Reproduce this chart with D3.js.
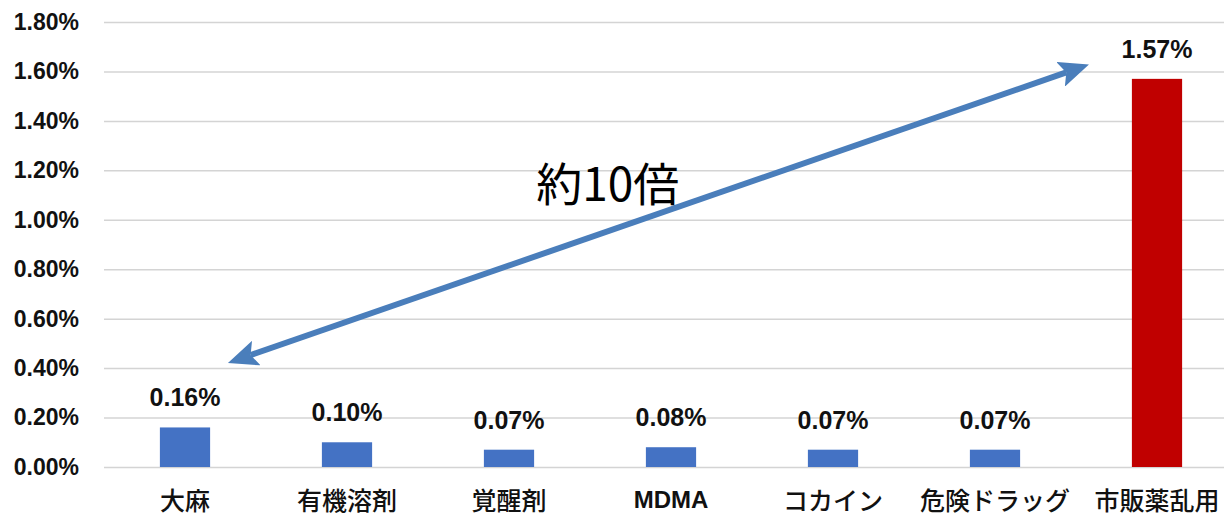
<!DOCTYPE html>
<html>
<head>
<meta charset="utf-8">
<script src="https://cdn.jsdelivr.net/npm/d3@7/dist/d3.min.js"></script>
<style>
  body { margin: 0; background: #fff; }
  svg { display: block; }
</style>
</head>
<body>
<svg id="Chart"></svg>
<script>
// data
const categories = ['大麻', '有機溶剤', '覚醒剤', 'MDMA', 'コカイン', '危険ドラッグ', '市販薬乱用'];
const rates = [0.0016, 0.0010, 0.0007, 0.0008, 0.0007, 0.0007, 0.0157];
const barColors = ['#4472C4', '#4472C4', '#4472C4', '#4472C4', '#4472C4', '#4472C4', '#C00000'];
const yTicks = [0, 0.002, 0.004, 0.006, 0.008, 0.010, 0.012, 0.014, 0.016, 0.018];
// arrow annotation, in (category index, value) space
const arrowFrom = [0.265, 0.00421];
const arrowTo = [5.58, 0.01628];
const noteText = '約10倍';
const notePos = [2.61, 0.01158];

const width = 1224, height = 516;
const plot = { left: 104, right: 1238, top: 22, bottom: 467 };

const svg = d3.select('#Chart')
  .attr('width', width)
  .attr('height', height);

const x = d3.scaleBand()
  .domain(categories)
  .range([plot.left, plot.right])
  .padding(0);

const xIdx = d3.scaleLinear()
  .domain([0, categories.length - 1])
  .range([x(categories[0]) + x.bandwidth() / 2, x(categories[categories.length - 1]) + x.bandwidth() / 2]);

const y = d3.scaleLinear()
  .domain([0, 0.018])
  .range([plot.bottom, plot.top]);

const barW = x.bandwidth() * 0.31;
const isLatin = d => /^[A-Z]+$/.test(d);

// gridlines + y labels
const yAxis = d3.axisLeft(y)
  .tickValues(yTicks)
  .tickFormat(d3.format('.2%'))
  .tickSize(-(plot.right - plot.left))
  .tickPadding(25);

const gy = svg.append('g')
  .attr('transform', 'translate(' + plot.left + ',0)')
  .call(yAxis);
gy.select('.domain').remove();
gy.selectAll('.tick line')
  .attr('stroke', '#d4d4d4')
  .attr('stroke-width', 1.5);
gy.selectAll('.tick text')
  .attr('fill', '#111')
  .style('font-family', '"Liberation Sans", Arial, sans-serif')
  .style('font-weight', 'bold')
  .style('font-size', '23px');

// bars
svg.selectAll('.bar')
  .data(categories)
  .enter().append('rect')
  .attr('class', 'bar')
  .attr('x', d => x(d) + (x.bandwidth() - barW) / 2)
  .attr('width', barW)
  .attr('y', (d, i) => y(rates[i]))
  .attr('height', (d, i) => plot.bottom - y(rates[i]))
  .attr('fill', (d, i) => barColors[i]);

// value labels
svg.selectAll('.val')
  .data(categories)
  .enter().append('text')
  .attr('class', 'val')
  .attr('x', d => x(d) + x.bandwidth() / 2)
  .attr('y', (d, i) => y(rates[i]) - 21)
  .attr('text-anchor', 'middle')
  .style('font-family', '"Liberation Sans", Arial, sans-serif')
  .style('font-weight', 'bold')
  .style('font-size', '25px')
  .attr('fill', '#111')
  .text((d, i) => d3.format('.2%')(rates[i]));

// category labels
svg.selectAll('.cat')
  .data(categories)
  .enter().append('text')
  .attr('class', 'cat')
  .attr('x', d => x(d) + x.bandwidth() / 2)
  .attr('y', d => isLatin(d) ? 508 : 510)
  .attr('text-anchor', 'middle')
  .style('font-family', d => isLatin(d) ? '"Liberation Sans", Arial, sans-serif' : '"Noto Sans CJK JP", sans-serif')
  .style('font-weight', d => isLatin(d) ? 'bold' : '500')
  .style('font-size', d => isLatin(d) ? '24px' : '25px')
  .attr('fill', '#111')
  .text(d => d);

// double-headed arrow
const arrowColor = '#4A7EBB';
svg.append('defs').append('marker')
  .attr('id', 'head')
  .attr('markerUnits', 'userSpaceOnUse')
  .attr('viewBox', '0 0 30 26')
  .attr('refX', 6)
  .attr('refY', 13)
  .attr('markerWidth', 30)
  .attr('markerHeight', 26)
  .attr('orient', 'auto-start-reverse')
  .append('path')
  .attr('d', 'M0,0 L30,13 L0,26 L6,13 Z')
  .attr('fill', arrowColor);

const x1 = xIdx(arrowFrom[0]), y1 = y(arrowFrom[1]);
const x2 = xIdx(arrowTo[0]), y2 = y(arrowTo[1]);
const len = Math.hypot(x2 - x1, y2 - y1);
const ux = (x2 - x1) / len, uy = (y2 - y1) / len;
const inset = 24;

svg.append('line')
  .attr('x1', x1 + ux * inset)
  .attr('y1', y1 + uy * inset)
  .attr('x2', x2 - ux * inset)
  .attr('y2', y2 - uy * inset)
  .attr('stroke', arrowColor)
  .attr('stroke-width', 6)
  .attr('marker-start', 'url(#head)')
  .attr('marker-end', 'url(#head)');

svg.append('text')
  .attr('x', xIdx(notePos[0]))
  .attr('y', y(notePos[1]))
  .attr('text-anchor', 'middle')
  .attr('dominant-baseline', 'central')
  .style('font-family', '"Noto Sans CJK JP", sans-serif')
  .style('font-size', '46px')
  .attr('fill', '#000')
  .text(noteText);
</script>
</body>
</html>
